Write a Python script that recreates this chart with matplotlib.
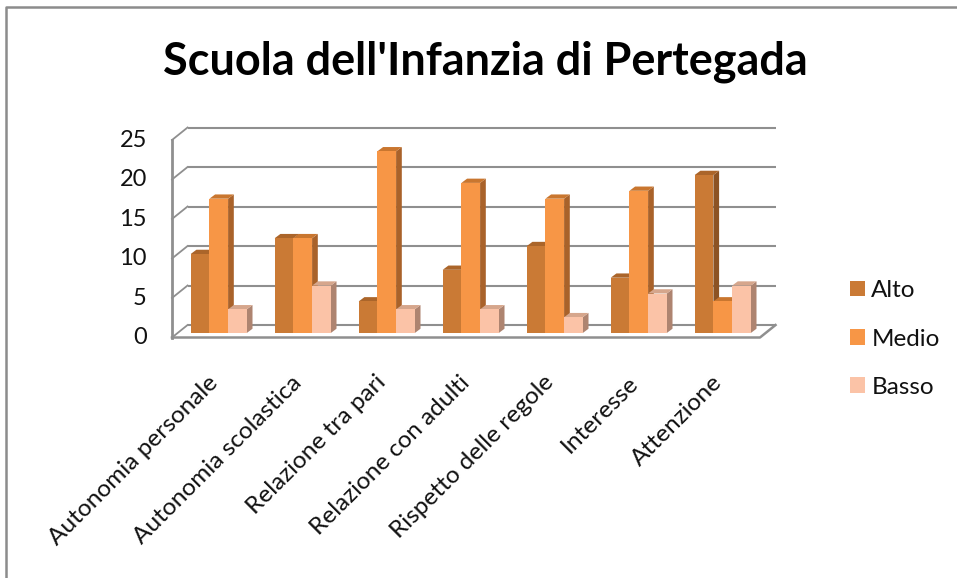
import matplotlib
matplotlib.use("Agg")
import matplotlib.pyplot as plt
from matplotlib.lines import Line2D
from matplotlib.patches import Patch, Polygon

plt.rcParams["font.family"] = ["Lato", "DejaVu Sans"]

# Data
categories = ["Autonomia personale", "Autonomia scolastica", "Relazione tra pari",
              "Relazione con adulti", "Rispetto delle regole", "Interesse", "Attenzione"]
alto = [10, 12, 4, 8, 11, 7, 20]
medio = [17, 12, 23, 19, 17, 18, 4]
basso = [3, 6, 3, 3, 2, 5, 6]
series_names = ["Alto", "Medio", "Basso"]
y_ticks = [0, 5, 10, 15, 20, 25]

# front, side, top colours for each series
colors = [("#CA7A35", "#8C5324", "#AB652A"),
          ("#F79646", "#A9622A", "#C9762F"),
          ("#FBC3A7", "#AE8470", "#D6A68C")]

GRID = "#8F8F8F"
W, H = 957, 578

# 3D look, in data units (one category = 84 px, one value = 7.9 px)
BAR_W = 0.2226
BAR_START = 0.2226
BAR_DX = 0.068
BAR_DY = 0.54
WALL_DX = 0.185
FLOOR_FRONT = -0.57
FLOOR_BACK = 1.01


def draw_bar(ax, x, value, cols):
    front, side, top = cols
    x2 = x + BAR_W
    ax.add_patch(Polygon([(x2, 0), (x2 + BAR_DX, BAR_DY), (x2 + BAR_DX, value + BAR_DY), (x2, value)],
                         fc=side, ec="none", clip_on=False, zorder=3))
    ax.add_patch(Polygon([(x, value), (x2, value), (x2 + BAR_DX, value + BAR_DY), (x + BAR_DX, value + BAR_DY)],
                         fc=top, ec="none", clip_on=False, zorder=3))
    ax.add_patch(Polygon([(x, 0), (x2, 0), (x2, value), (x, value)],
                         fc=front, ec="none", clip_on=False, zorder=3))


def main():
    fig = plt.figure(figsize=(W / 100, H / 100), dpi=100)

    # chart area border, only top and left are inside the crop
    fig.add_artist(Line2D([6 / W, 6 / W, 1], [0, 1 - 7 / H, 1 - 7 / H], color="#8C8C8C", lw=1.8))

    ax = fig.add_axes([172 / W, 1 - 333 / H, 588 / W, 197.5 / H])
    ax.set_xlim(0, 7)
    ax.set_ylim(0, 25)
    ax.axis("off")

    n = len(categories)
    # back wall and side wall gridlines
    for t in y_ticks:
        yb = t + FLOOR_BACK
        yf = t + FLOOR_FRONT
        ax.plot([WALL_DX, n + WALL_DX], [yb, yb], color=GRID, lw=1.5, clip_on=False, zorder=1,
                solid_capstyle="butt")
        ax.plot([0, WALL_DX], [yf, yb], color=GRID, lw=1.3, clip_on=False, zorder=1)
        ax.text(-0.3, yf, str(t), ha="right", va="center", fontsize=17, color="#111111")

    # left edge and floor outline
    ax.plot([0, 0], [25 + FLOOR_FRONT, FLOOR_FRONT], color=GRID, lw=2, clip_on=False, zorder=2)
    ax.plot([0, n, n + WALL_DX], [FLOOR_FRONT, FLOOR_FRONT, FLOOR_BACK], color=GRID, lw=1.8,
            clip_on=False, zorder=2)

    for i in range(n):
        for j, vals in enumerate([alto, medio, basso]):
            draw_bar(ax, i + BAR_START + j * BAR_W, vals[i], colors[j])
        ax.annotate(categories[i], xy=(i + 0.5, FLOOR_FRONT), xytext=(0.5, -30),
                    textcoords="offset points", rotation=45, rotation_mode="anchor",
                    ha="right", va="center", fontsize=17.6, color="#111111", annotation_clip=False)

    fig.text(485 / W, 1 - 61.5 / H, "Scuola dell'Infanzia di Pertegada", ha="center", va="center",
             fontsize=32.4, fontweight="bold", color="black")

    handles = [Patch(fc=colors[k][0], ec="none") for k in range(3)]
    fig.legend(handles, series_names, loc="center left", bbox_to_anchor=(850 / W, 1 - 339 / H),
               frameon=False, fontsize=17.5, handlelength=0.6, handleheight=0.6, handletextpad=0.28,
               labelspacing=1.12, labelcolor="#111111", borderpad=0, borderaxespad=0)

    fig.savefig("out.png", dpi=100)
    plt.close(fig)


if __name__ == "__main__":
    main()
